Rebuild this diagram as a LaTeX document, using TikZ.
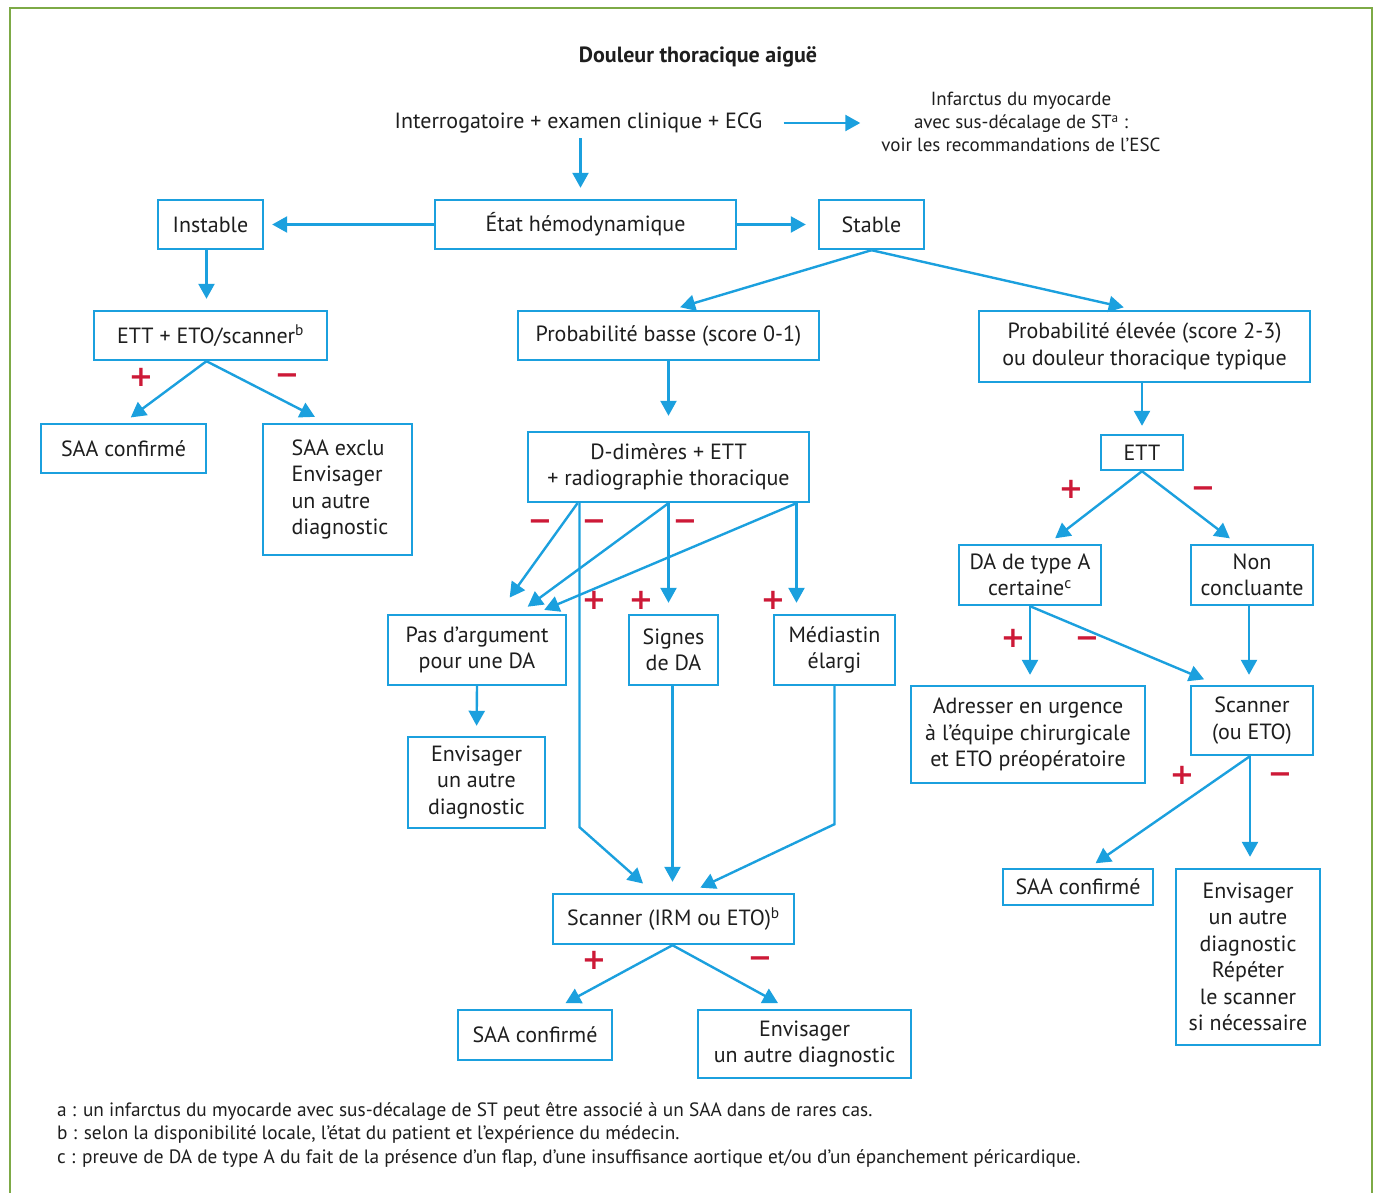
\documentclass[tikz,border=0pt]{standalone}
\usepackage{fontspec}
\setmainfont{PT Sans}[Numbers=OldStyle]
\newfontfamily\signfont{DejaVu Sans}
\usetikzlibrary{arrows.meta}
\definecolor{cblue}{RGB}{27,160,222}
\definecolor{cred}{RGB}{205,25,55}
\definecolor{cgreen}{RGB}{125,170,70}
\definecolor{ctext}{RGB}{30,30,30}
\tikzset{
  box/.style={draw=cblue, line width=2.4pt, align=center, inner sep=0pt, text=ctext,
    font=\fontsize{22}{26.5}\selectfont},
  plain/.style={align=center, inner sep=0pt, text=ctext, font=\fontsize{22}{26.5}\selectfont},
  arr/.style={draw=cblue, line width=2.4pt, -{Triangle[width=16pt,length=15pt]}},
  pl/.style={text=cred, font=\signfont\bfseries\fontsize{29}{29}\selectfont, inner sep=0pt},
  mi/.style={pl, yshift=-4pt},
  foot/.style={anchor=west, align=left, inner sep=0pt, text=ctext, font=\fontsize{19.3}{22}\selectfont},
}
\begin{document}
\begin{tikzpicture}[x=1pt,y=-1pt]
\useasboundingbox (0,0) rectangle (1376,1193);
\fill[white] (0,0) rectangle (1376,1193);
\draw[cgreen, line width=2.5pt] (10,8) rectangle (1372,1215);

% title and top
\node[plain, font=\bfseries\fontsize{22}{26}\selectfont] (title) at (698,57) {Douleur thoracique aiguë};
\node[plain] (interro) at (578.5,123) {Interrogatoire + examen clinique + ECG};
\node[plain, font=\fontsize{19}{23}\selectfont] (infarctus) at (1021,122)
  {Infarctus du myocarde\\avec sus-décalage de ST\textsuperscript{a} :\\voir les recommandations de l’ESC};

% boxes
\node[box, minimum width=105pt, minimum height=49pt] (instable) at (210.5,224.5) {Instable};
\node[box, minimum width=301pt, minimum height=49pt] (etat) at (585.5,224.5) {État hémodynamique};
\node[box, minimum width=105pt, minimum height=49pt] (stable) at (871.5,224.5) {Stable};
\node[box, minimum width=233pt, minimum height=49pt] (ett1) at (210.5,335.5) {ETT + ETO/scanner\textsuperscript{b}};
\node[box, minimum width=165pt, minimum height=49pt] (saa1) at (123.5,448.5) {SAA confirmé};
\node[box, minimum width=149pt, minimum height=131pt, align=left] (exclu) at (337.5,489.5)
  {\hspace*{5pt}SAA exclu\\\hspace*{5pt}Envisager\\\hspace*{5pt}un autre\\\hspace*{5pt}diagnostic};
\node[box, minimum width=301pt, minimum height=49pt] (pbasse) at (668.5,335.5) {Probabilité basse (score 0-1)};
\node[box, minimum width=331pt, minimum height=71pt] (phaute) at (1144.5,346.5)
  {Probabilité élevée (score 2-3)\\ou douleur thoracique typique};
\node[box, minimum width=281pt, minimum height=70pt] (ddim) at (668.5,467)
  {D-dimères + ETT\\+ radiographie thoracique};
\node[box, minimum width=82pt, minimum height=35pt] (ett2) at (1142,452.5) {ETT};
\node[box, minimum width=178pt, minimum height=70pt] (pas) at (477,650) {Pas d’argument\\pour une DA};
\node[box, minimum width=89pt, minimum height=70pt] (signes) at (673.5,650) {Signes\\de DA};
\node[box, minimum width=121pt, minimum height=70pt] (medi) at (834.5,650) {Médiastin\\élargi};
\node[box, minimum width=137pt, minimum height=91pt] (env1) at (476.5,782.5) {Envisager\\un autre\\diagnostic};
\node[box, minimum width=241pt, minimum height=50pt] (scan) at (673.5,919) {Scanner (IRM ou ETO)\textsuperscript{b}};
\node[box, minimum width=154pt, minimum height=50pt] (saa2) at (535,1035) {SAA confirmé};
\node[box, minimum width=213pt, minimum height=68pt] (env2) at (804.5,1044) {Envisager\\un autre diagnostic};
\node[box, minimum width=142pt, minimum height=60pt] (datype) at (1030,575) {DA de type A\\certaine\textsuperscript{c}};
\node[box, minimum width=122pt, minimum height=60pt] (noncon) at (1252,575) {Non\\concluante};
\node[box, minimum width=234pt, minimum height=97pt] (adresser) at (1028,734.5)
  {Adresser en urgence\\à l’équipe chirurgicale\\et ETO préopératoire};
\node[box, minimum width=122pt, minimum height=69pt] (scanr) at (1252,720.5) {Scanner\\(ou ETO)};
\node[box, minimum width=150pt, minimum height=36pt] (saa3) at (1078,887) {SAA confirmé};
\node[box, minimum width=144pt, minimum height=176pt] (env3) at (1248,957)
  {Envisager\\un autre\\diagnostic\\Répéter\\le scanner\\si nécessaire};

% connectors
\draw[arr, shorten <=5pt, shorten >=11pt] (interro.south -| etat.north) ++(-5,0) coordinate (i0) -- (i0 |- etat.north);
\draw[arr, shorten <=21pt, shorten >=21pt] (interro.east) -- (interro.east -| infarctus.west);
\draw[arr, shorten >=8pt] (etat.west) -- (instable.east);
\draw[arr, shorten >=12pt] (etat.east) -- (stable.west);
\draw[arr, shorten >=11pt] ([xshift=-4pt]instable.south) -- ([xshift=-4pt]ett1.north);
\draw[arr, shorten >=9pt] ([xshift=-4pt]ett1.south) -- (saa1.north);
\draw[arr, shorten >=13pt] ([xshift=-4pt]ett1.south) -- ([xshift=-11pt]exclu.north);
\draw[arr, shorten >=9pt] (stable.south) -- ([xshift=3pt]pbasse.north);
\draw[arr, shorten >=11pt] (stable.south) -- ([xshift=-10pt]phaute.north);
\draw[arr, shorten >=15pt] (pbasse.south) -- (ddim.north);
\draw[arr, shorten >=8pt] (phaute.south -| ett2.north) -- (ett2.north);
% D-dimeres
\draw[arr, shorten >=20pt] ([xshift=-91pt]ddim.south) -- ([xshift=21pt]pas.north);
\draw[arr, shorten >=14pt] ([xshift=-89pt]ddim.south) -- ++(0,324) -- ([xshift=-20pt]scan.north);
\draw[arr, shorten >=12pt] (ddim.south) -- ([xshift=41pt]pas.north);
\draw[arr, shorten >=11pt] (ddim.south) -- (ddim.south |- signes.north);
\draw[arr, shorten >=10pt] ([xshift=128pt]ddim.south) -- ([xshift=58pt]pas.north);
\draw[arr, shorten >=11pt] ([xshift=128pt]ddim.south) -- ([xshift=128pt]ddim.south |- medi.north);
\draw[arr, shorten >=10pt] (pas.south) -- (env1.north);
\draw[arr, shorten >=11pt] ([xshift=-1pt]signes.south) -- ([xshift=-1pt]signes.south |- scan.north);
\draw[arr, shorten >=12pt] (medi.south) -- ++(0,138) -- ([xshift=16pt]scan.north);
\draw[arr, shorten >=12pt] ([xshift=-1pt]scan.south) -- ([xshift=20pt]saa2.north);
\draw[arr, shorten >=12pt] ([xshift=-1pt]scan.south) -- ([xshift=-16pt]env2.north);
% right
\draw[arr, shorten >=9pt] (ett2.south) -- ([xshift=18pt]datype.north);
\draw[arr, shorten >=9pt] (ett2.south) -- ([xshift=-15pt]noncon.north);
\draw[arr, shorten >=10pt] (datype.south) -- (datype.south |- adresser.north);
\draw[arr, shorten >=14pt] (datype.south) -- ([xshift=-35pt]scanr.north);
\draw[arr, shorten >=10pt] ([xshift=-3pt]noncon.south) -- ([xshift=-3pt]scanr.north);
\draw[arr, shorten >=8pt] ([xshift=-2pt]scanr.south) -- ([xshift=11pt]saa3.north);
\draw[arr, shorten >=11pt] ([xshift=-2pt]scanr.south) -- ([xshift=-2pt]scanr.south |- env3.north);

% signs
\node[pl] (s1) at (141,377) {+};
\node[mi] (s2) at (287,375) {−};
\node[mi] (s3) at (540,521) {−};
\node[mi] (s4) at (594,521) {−};
\node[mi] (s5) at (685,521) {−};
\node[pl] (s6) at (594,600) {+};
\node[pl] (s7) at (641,600) {+};
\node[pl] (s8) at (773,600) {+};
\node[pl] (s9) at (594,960) {+};
\node[mi] (s10) at (760,958) {−};
\node[pl] (s11) at (1071,489) {+};
\node[mi] (s12) at (1203,488) {−};
\node[pl] (s13) at (1013,638) {+};
\node[mi] (s14) at (1087,638) {−};
\node[pl] (s15) at (1182,775) {+};
\node[mi] (s16) at (1280,774) {−};

% footnotes
\node[foot] (fa) at (57,1111) {a : un infarctus du myocarde avec sus-décalage de ST peut être associé à un SAA dans de rares cas.};
\node[foot] (fb) at (57,1134) {b : selon la disponibilité locale, l’état du patient et l’expérience du médecin.};
\node[foot] (fc) at (57,1159) {c : preuve de DA de type A du fait de la présence d’un flap, d’une insuffisance aortique et/ou d’un épanchement péricardique.};
\end{tikzpicture}
\end{document}
